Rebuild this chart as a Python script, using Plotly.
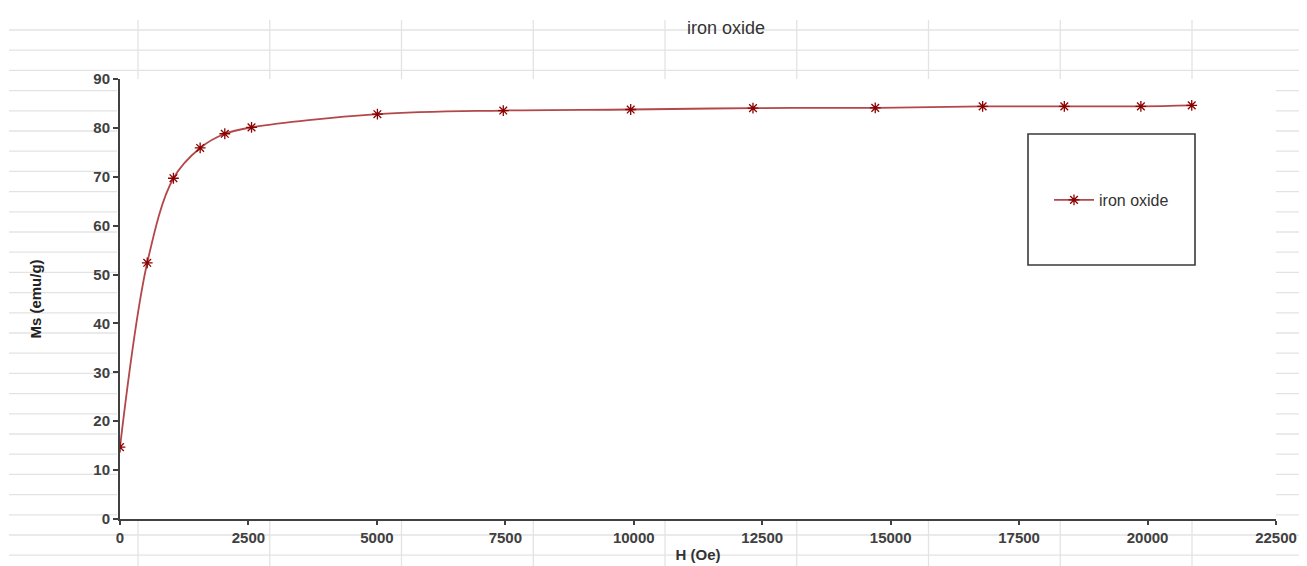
import plotly.graph_objects as go

# ---- data ----
field_oe = [0, 530, 1040, 1560, 2040, 2560, 5010, 7460, 9940, 12320, 14700, 16790, 18380, 19870, 20860]
ms_emu_g = [14.7, 52.4, 69.7, 75.9, 78.8, 80.1, 82.8, 83.55, 83.76, 84.05, 84.1, 84.4, 84.4, 84.4, 84.6]
series_name = "iron oxide"
chart_title = "iron oxide"
x_title = "H (Oe)"
y_title = "Ms (emu/g)"

# ---- layout constants (page pixels; the page body adds an 8px offset) ----
OFF = 8
PAGE_W, PAGE_H = 1307, 566
W, H = PAGE_W - OFF, PAGE_H - OFF
PLOT_X0, PLOT_X1, PLOT_Y0, PLOT_Y1 = 120, 1276, 79, 519   # page pixels
L = PLOT_X0 - OFF
T = PLOT_Y0 - OFF
R = W - (PLOT_X1 - OFF)
B = H - (PLOT_Y1 - OFF)
PW, PH = W - L - R, H - T - B


def px(x):
    return (x - PLOT_X0) / PW


def py(y):
    return (PLOT_Y1 - y) / PH


GRID = "#e3e3e3"
shapes = []
# spreadsheet cell grid behind the chart
for k in range(27):
    yy = 30 + 20.2 * k
    shapes.append(dict(type="line", xref="paper", yref="paper", x0=px(9), x1=px(PAGE_W + 5),
                       y0=py(yy), y1=py(yy), line=dict(color=GRID, width=1.3), layer="below"))
for k in range(9):
    xx = 138 + 131.75 * k
    shapes.append(dict(type="line", xref="paper", yref="paper", x0=px(xx), x1=px(xx),
                       y0=py(20), y1=py(PAGE_H + 5), line=dict(color=GRID, width=1.3), layer="below"))
# white plot area
shapes.append(dict(type="rect", xref="paper", yref="paper", x0=px(117), x1=1, y0=0, y1=1,
                   fillcolor="white", line=dict(width=0), layer="below"))
# legend frame
shapes.append(dict(type="rect", xref="paper", yref="paper", x0=px(1028), x1=px(1195),
                   y0=py(265), y1=py(134), fillcolor="white",
                   line=dict(color="#3a3a3a", width=1.6), layer="below"))

fig = go.Figure()
fig.add_trace(go.Scatter(
    x=field_oe, y=ms_emu_g, name=series_name, mode="lines+markers",
    line=dict(color="#b3474a", width=1.8, shape="spline", smoothing=1.0),
    marker=dict(symbol="asterisk-open", size=9, color="#8b0000",
                line=dict(color="#8b0000", width=1.3)),
))

tickfont = dict(family="Liberation Sans, Arial, sans-serif", size=15, color="#404040", weight="bold")

fig.update_layout(
    width=W, height=H,
    margin=dict(l=L, r=R, t=T, b=B, pad=0, autoexpand=False),
    paper_bgcolor="white", plot_bgcolor="white",
    shapes=shapes,
    title=dict(text=chart_title, x=px(726), xref="paper", xanchor="center",
               y=1 - (28 - OFF) / H, yanchor="middle",
               font=dict(family="Liberation Sans, Arial, sans-serif", size=18, color="#333333")),
    showlegend=True,
    legend=dict(x=px(1049), y=py(200), xanchor="left", yanchor="middle",
                bgcolor="rgba(0,0,0,0)", borderwidth=0, itemwidth=40,
                font=dict(family="Liberation Sans, Arial, sans-serif", size=16, color="#333333")),
    xaxis=dict(range=[0, 22500], dtick=2500, tick0=0, tickformat="d", automargin=False,
               showgrid=False, zeroline=False, showline=True, linecolor="#404040", linewidth=2,
               ticks="outside", ticklen=4, tickwidth=1.5, tickcolor="#404040",
               tickfont=tickfont,
               title=dict(text=x_title, standoff=4,
                          font=dict(family="Liberation Sans, Arial, sans-serif", size=15,
                                    color="#333333", weight="bold"))),
    yaxis=dict(range=[0, 90], dtick=10, tick0=0, automargin=False,
               showgrid=False, zeroline=False, showline=True, linecolor="#404040", linewidth=2,
               ticks="outside", ticklen=5, tickwidth=1.5, tickcolor="#404040",
               tickfont=tickfont,
               title=dict(text=y_title, standoff=48,
                          font=dict(family="Liberation Sans Narrow, Arial Narrow, Liberation Sans, sans-serif",
                                    size=15, color="#222222", weight="bold"))),
)

fig.write_html("out.html")
